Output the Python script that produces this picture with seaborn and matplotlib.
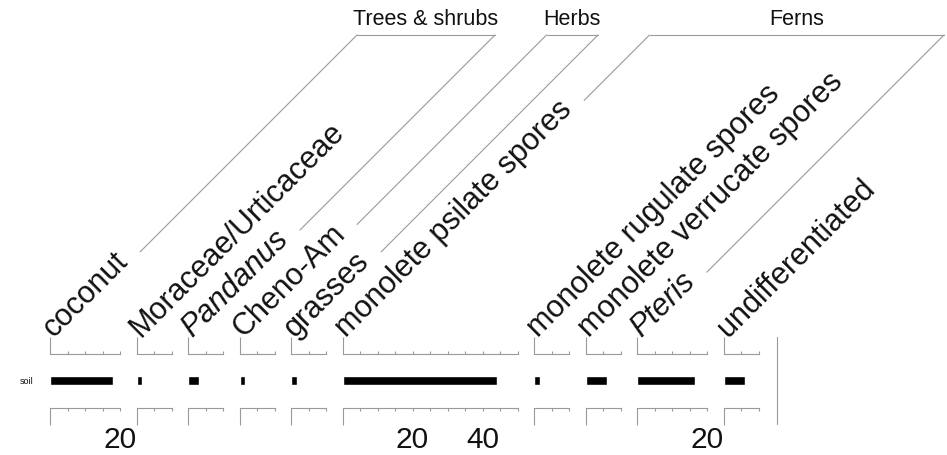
import numpy as np
import pandas as pd
import matplotlib
matplotlib.use("Agg")
import matplotlib.pyplot as plt
import seaborn as sns
from matplotlib.ticker import FixedLocator, MultipleLocator, FuncFormatter, NullFormatter

# --- data (one sample, percentages) ---
taxa = ["coconut", "Moraceae/Urticaceae", "Pandanus", "Cheno-Am", "grasses",
        "monolete psilate spores", "monolete rugulate spores",
        "monolete verrucate spores", "Pteris", "undifferentiated"]
italic_taxa = ["Pandanus", "Pteris"]
soil_pct = [18.0, 1.7, 3.2, 1.7, 1.6, 44.0, 1.7, 6.0, 16.5, 6.2]
axis_max = [20, 10, 10, 10, 10, 50, 10, 10, 20, 10]
samples = ["soil"]
groups = ["Trees & shrubs", "Herbs", "Ferns"]
group_first = ["coconut", "Cheno-Am", "monolete psilate spores"]
group_last = ["Pandanus", "grasses", "Pteris"]

# --- layout (pixels) ---
W, H, DPI = 947, 455, 100
PX_PER_PCT = 3.5
GAP = 16.5
X0 = 50
AX_TOP, AX_BOT = 337, 424
TOP_SPINE, BOT_SPINE = 354, 408
LABEL_Y, LABEL_DX = 338, 4
BRACKET_Y = 35
GREY = "#9a9a9a"
INK = "#111111"

sns.set_style("white")
plt.rcParams["font.family"] = ["Liberation Sans", "DejaVu Sans"]

fig = plt.figure(figsize=(W / DPI, H / DPI), dpi=DPI)
ov = fig.add_axes([0, 0, 1, 1])
ov.set_xlim(0, W)
ov.set_ylim(H, 0)
ov.axis("off")

renderer = fig.canvas.get_renderer()
ax_h = AX_BOT - AX_TOP
label_anchor = {}
label_len = {}

left = X0
for i, (name, val, xmax) in enumerate(zip(taxa, soil_pct, axis_max)):
    w = xmax * PX_PER_PCT
    ax = fig.add_axes([left / W, 1 - AX_BOT / H, w / W, ax_h / H])
    df = pd.DataFrame({"sample": samples, "pct": [val]})
    sns.barplot(data=df, x="pct", y="sample", orient="h", color="black",
                saturation=1, width=0.11, errorbar=None, ax=ax)
    ax.set_xlim(0, xmax)
    ax.set_ylim(0.5, -0.5)
    ax.set_facecolor("none")
    ax.set_xlabel("")
    ax.set_ylabel("")

    for s in ["left", "right"]:
        ax.spines[s].set_visible(False)
    for s in ["top", "bottom"]:
        ax.spines[s].set_color(GREY)
        ax.spines[s].set_linewidth(0.8)
    ax.spines["top"].set_position(("axes", (AX_BOT - TOP_SPINE) / ax_h))
    ax.spines["bottom"].set_position(("axes", (AX_BOT - BOT_SPINE) / ax_h))

    ax.xaxis.set_ticks_position("both")
    ax.xaxis.set_major_locator(FixedLocator([0]))
    ax.xaxis.set_major_formatter(NullFormatter())
    ax.xaxis.set_minor_locator(MultipleLocator(5))
    ax.xaxis.set_minor_formatter(
        FuncFormatter(lambda v, p: f"{v:.0f}" if v > 0 and round(v) % 20 == 0 else ""))
    ax.tick_params(axis="x", which="major", direction="out", length=12.2,
                   width=0.8, color=GREY, top=True, bottom=True,
                   labeltop=False, labelbottom=False)
    ax.tick_params(axis="x", which="minor", direction="out", length=2.4,
                   width=0.8, color=GREY, top=True, bottom=True,
                   labeltop=False, labelbottom=True, labelsize=21.5,
                   labelcolor=INK, pad=10.5)

    ax.tick_params(axis="y", length=0)
    if i == 0:
        ax.tick_params(axis="y", labelsize=6.5, pad=12, labelcolor=INK)
    else:
        ax.tick_params(axis="y", labelleft=False)

    # rotated taxon label
    ax_x = left + LABEL_DX
    t = ov.text(ax_x, LABEL_Y, name, fontsize=22, color=INK,
                style="italic" if name in italic_taxa else "normal",
                ha="left", va="baseline", rotation=0, rotation_mode="anchor")
    label_len[name] = t.get_window_extent(renderer).width
    t.set_rotation(45)
    label_anchor[name] = ax_x

    left += w + GAP

# closing line at the right of the diagram
x_end = left - GAP + 18
ov.plot([x_end, x_end], [AX_TOP, AX_BOT], color=GREY, lw=0.8)

# group brackets with leader lines following the label diagonals
c45 = np.cos(np.pi / 4)
for g, first, last in zip(groups, group_first, group_last):
    corners = []
    for name in (first, last):
        ax_x = label_anchor[name]
        s = label_len[name] + 15
        x0, y0 = ax_x + s * c45, LABEL_Y - s * c45
        cx = ax_x + (LABEL_Y - BRACKET_Y)
        ov.plot([x0, cx], [y0, BRACKET_Y], color=GREY, lw=0.8)
        corners.append(cx)
    ov.plot(corners, [BRACKET_Y, BRACKET_Y], color=GREY, lw=0.8)
    ov.text(sum(corners) / 2, 25, g, fontsize=15.5, color=INK,
            ha="center", va="baseline")

fig.savefig("out.png", dpi=DPI)
